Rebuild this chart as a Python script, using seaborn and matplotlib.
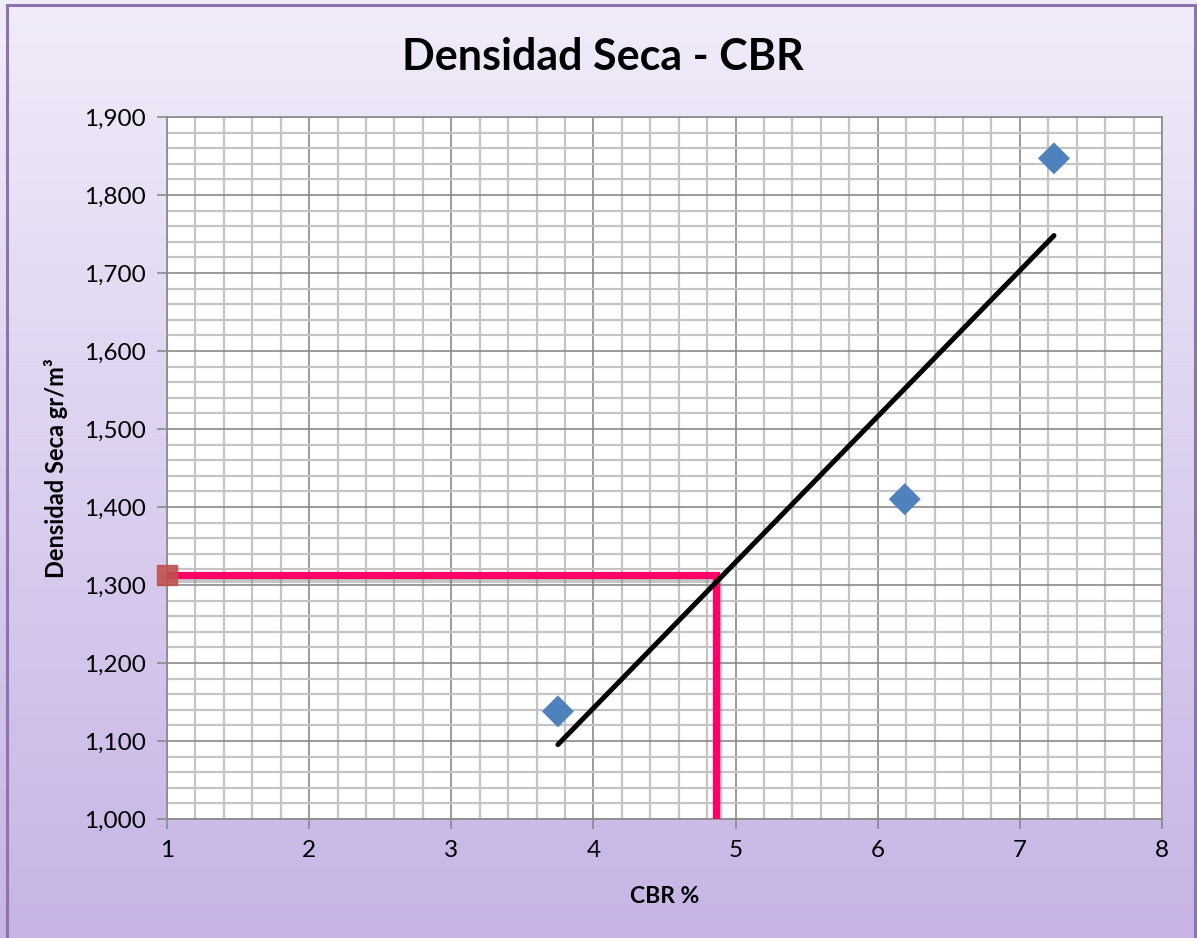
import numpy as np
import matplotlib
matplotlib.use("Agg")
import matplotlib.pyplot as plt
import matplotlib.patheffects as pe
from matplotlib.ticker import MultipleLocator, StrMethodFormatter
from matplotlib.patches import Rectangle
import seaborn as sns

# data
cbr = [3.75, 6.19, 7.24]
densidad = [1138, 1410, 1847]

# design point (pink guide lines)
cbr_diseno = 4.86
densidad_diseno = 1313

x_limits = [1, 8]
y_limits = [1000, 1900]
x_ticks = [1, 2, 3, 4, 5, 6, 7, 8]
y_ticks = [1000, 1100, 1200, 1300, 1400, 1500, 1600, 1700, 1800, 1900]

sns.set_theme(style="white")
plt.rcParams['font.family'] = ['Lato', 'DejaVu Sans']
plt.rcParams['text.color'] = 'black'
plt.rcParams['axes.labelcolor'] = 'black'
plt.rcParams['xtick.labelcolor'] = 'black'
plt.rcParams['ytick.labelcolor'] = 'black'

fig = plt.figure(figsize=(11.97, 9.38), dpi=100)

# gradient background
bg = fig.add_axes([0, 0, 1, 1], zorder=-10)
grad = np.linspace(0, 1, 256).reshape(-1, 1)
top = np.array([0.945, 0.925, 0.978])
bottom = np.array([0.780, 0.706, 0.898])
img = top + (bottom - top) * grad[:, :, None]
bg.imshow(img, aspect='auto', extent=[0, 1, 0, 1], origin='upper')
bg.set_axis_off()
fig.patches.append(Rectangle((7 / 1197, -0.01), 1188 / 1197, 1.01 - 5 / 938,
                             transform=fig.transFigure, fill=False,
                             edgecolor='#8B74B0', linewidth=2.2, zorder=5))

ax = fig.add_axes([167 / 1197, 1 - 819 / 938, 995 / 1197, 702 / 938])
ax.set_facecolor('white')

ax.set_xlim(x_limits)
ax.set_ylim(y_limits)
ax.set_xticks(x_ticks)
ax.set_yticks(y_ticks)
ax.xaxis.set_minor_locator(MultipleLocator(0.2))
ax.yaxis.set_minor_locator(MultipleLocator(20))
ax.yaxis.set_major_formatter(StrMethodFormatter('{x:,.0f}'))

ax.grid(which='minor', color='#C4C4C4', linewidth=1.6, zorder=0)
ax.grid(which='major', color='#8A8A8A', linewidth=1.2, zorder=0)
ax.set_axisbelow(True)
for s in ax.spines.values():
    s.set_color('#8A8A8A')
    s.set_linewidth(1.2)

ax.tick_params(which='major', direction='out', length=7, width=1.2, color='#8A8A8A',
               labelsize=17.5, pad=8, left=True, bottom=True)
ax.tick_params(which='minor', length=0)

# pink guide lines
ax.plot([x_limits[0], cbr_diseno, cbr_diseno],
        [densidad_diseno, densidad_diseno, y_limits[0]],
        color='#FF0066', linewidth=5.2, solid_joinstyle='miter', zorder=3,
        path_effects=[pe.SimpleLineShadow(offset=(2, -3), shadow_color='#808080', alpha=0.45),
                      pe.Normal()])
ax.plot([x_limits[0]], [densidad_diseno], marker='s', markersize=14,
        color='#C0504D', alpha=0.9, linestyle='none', zorder=4, clip_on=False)

# linear trend line
coef = np.polyfit(cbr, densidad, 1)
xf = np.array([min(cbr), max(cbr)])
ax.plot(xf, np.polyval(coef, xf), color='black', linewidth=3.6,
        solid_capstyle='round', zorder=4)

sns.scatterplot(x=cbr, y=densidad, marker='D', s=265, color='#4F81BD',
                edgecolor='none', ax=ax, zorder=5)

ax.set_xlabel('CBR %', fontsize=16.5, fontweight='bold', labelpad=18)
ax.set_ylabel('Densidad Seca gr/m³', fontsize=17, fontweight='bold', labelpad=12)
fig.text(603 / 1197, 1 - 57 / 938, 'Densidad Seca - CBR', ha='center', va='center',
         fontsize=31, fontweight='bold')

fig.savefig('out.png', dpi=100)
